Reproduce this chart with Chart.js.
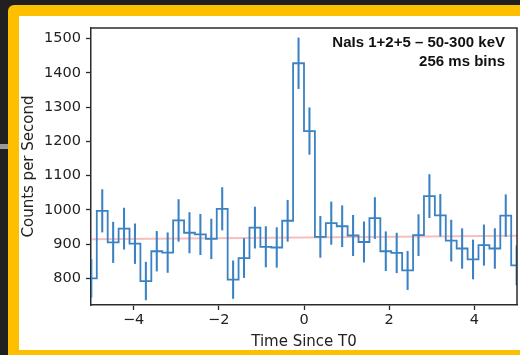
<!DOCTYPE html>
<html>
<head>
<meta charset="utf-8">
<script src="https://cdn.jsdelivr.net/npm/chart.js@4.4.1/dist/chart.umd.min.js"></script>
<style>
    html, body {
        margin: 0;
        padding: 0;
        width: 520px;
        height: 355px;
        overflow: hidden;
        background: #202020;
    }
    .frame {
        position: absolute;
        left: 8px;
        top: 5px;
        width: 530px;
        height: 370px;
        border-radius: 6px;
        background: #fdbf00;
    }
    .panel {
        position: absolute;
        left: 19px;
        top: 16px;
        width: 501px;
        height: 334px;
        background: #ffffff;
    }
    .tab {
        position: absolute;
        left: 0;
        top: 144px;
        width: 8px;
        height: 5px;
        background: #9a9a9a;
    }
    #lc {
        position: absolute;
        left: 0;
        top: 0;
    }
</style>
</head>
<body>
<div class="frame"></div>
<div class="panel"></div>
<div class="tab"></div>
<canvas id="lc" width="520" height="355"></canvas>
<script>
/* ==========================================================================
   光變曲線資料 (256 ms 分箱, NaI 1+2+5, 50-300 keV)
   ========================================================================== */

const binWidth = 0.256;       // 秒
const firstBin = -20;         // 第一個分箱的索引 (左緣 = firstBin * binWidth)

// 每個分箱的計數率 (counts / s)
const rates = [
    800, 997, 905, 945, 901, 792, 879, 875, 969, 933,
    928, 915, 1003, 796, 859, 948, 892, 890, 968, 1428,
    1230, 921, 961, 952, 925, 906, 976, 879, 874, 823,
    926, 1040, 984, 910, 887, 855, 897, 887, 983, 838
];

// 每個分箱的 1σ 誤差
const errors = [
    55, 62, 59, 60, 58, 55, 58, 58, 61, 59,
    59, 58, 62, 55, 57, 60, 59, 58, 60, 74,
    68, 60, 62, 60, 59, 59, 60, 57, 58, 56,
    60, 63, 61, 60, 58, 57, 59, 58, 61, 57
];

// 背景擬合線 (兩端點)
const bgTimes = [-5, 5];
const bgRates = [914, 924];

const xTicks = [-4, -2, 0, 2, 4];
const yTicks = [800, 900, 1000, 1100, 1200, 1300, 1400, 1500];

const labelLines = ['NaIs 1+2+5 \u2013 50-300 keV', '256 ms bins'];

/* ==========================================================================
   建立資料集
   ========================================================================== */

// 階梯線: 每個分箱左緣一點, 最後補上右緣
const stepPoints = rates.map((r, i) => ({ x: (firstBin + i) * binWidth, y: r }));
stepPoints.push({ x: (firstBin + rates.length) * binWidth, y: rates[rates.length - 1] });

// 誤差棒: 以浮動長條畫在分箱中心
const errPoints = rates.map((r, i) => ({
    x: (firstBin + i + 0.5) * binWidth,
    y: [r - errors[i], r + errors[i]]
}));

const bgPoints = bgTimes.map((t, i) => ({ x: t, y: bgRates[i] }));

const blue = '#3a82c4';
const axisColor = '#2b2b2b';
const textColor = '#222222';

// 上方與右方的邊框
const boxPlugin = {
    id: 'box',
    afterDatasetsDraw(chart) {
        const { ctx, chartArea: a } = chart;
        ctx.save();
        ctx.strokeStyle = axisColor;
        ctx.lineWidth = 1.5;
        ctx.beginPath();
        ctx.moveTo(a.left, a.top);
        ctx.lineTo(a.right, a.top);
        ctx.lineTo(a.right, a.bottom);
        ctx.stroke();
        ctx.restore();
    }
};

// 右上角說明文字
const notePlugin = {
    id: 'note',
    afterDraw(chart) {
        const { ctx, chartArea: a } = chart;
        ctx.save();
        ctx.fillStyle = '#111111';
        ctx.font = 'bold 15px "Liberation Sans", Arial, sans-serif';
        ctx.textAlign = 'right';
        ctx.textBaseline = 'middle';
        labelLines.forEach((line, i) => {
            ctx.fillText(line, a.right - 12, a.top + 15 + i * 19);
        });
        ctx.restore();
    }
};

const tickFont = { family: '"DejaVu Sans", sans-serif', size: 14.5 };
const titleFont = { family: '"DejaVu Sans", sans-serif', size: 15 };

new Chart(document.getElementById('lc'), {
    type: 'line',
    data: {
        datasets: [
            {
                type: 'line',
                data: stepPoints,
                stepped: 'before',
                borderColor: blue,
                borderWidth: 1.8,
                pointRadius: 0,
                fill: false,
                order: 1
            },
            {
                type: 'bar',
                data: errPoints,
                backgroundColor: blue,
                borderWidth: 0,
                barThickness: 1.4,
                grouped: false,
                order: 2
            },
            {
                type: 'line',
                data: bgPoints,
                borderColor: 'rgba(238, 110, 110, 0.45)',
                borderWidth: 2,
                pointRadius: 0,
                fill: false,
                order: 3
            }
        ]
    },
    options: {
        responsive: false,
        animation: false,
        devicePixelRatio: 1,
        layout: { padding: { left: 0, top: 28, right: 3, bottom: 0 } },
        plugins: {
            legend: { display: false },
            tooltip: { enabled: false }
        },
        scales: {
            x: {
                type: 'linear',
                min: -5,
                max: 5,
                offset: false,
                afterBuildTicks: scale => { scale.ticks = xTicks.map(v => ({ value: v })); },
                afterFit: scale => { scale.height = 50; },
                ticks: {
                    color: textColor,
                    font: tickFont,
                    padding: 2,
                    autoSkip: false,
                    maxRotation: 0,
                    callback: v => String(v).replace('-', '\u2212')
                },
                grid: {
                    offset: false,
                    drawOnChartArea: false,
                    drawTicks: true,
                    tickLength: 5,
                    tickColor: axisColor,
                    tickWidth: 1.3
                },
                border: { display: true, color: axisColor, width: 1.5 },
                title: {
                    display: true,
                    text: 'Time Since T0',
                    color: textColor,
                    font: titleFont,
                    padding: { top: 0, bottom: 4 }
                }
            },
            y: {
                type: 'linear',
                min: 722,
                max: 1531,
                afterBuildTicks: scale => { scale.ticks = yTicks.map(v => ({ value: v })); },
                afterFit: scale => { scale.width = 91; },
                ticks: {
                    color: textColor,
                    font: tickFont,
                    padding: 5,
                    autoSkip: false,
                    callback: v => String(v)
                },
                grid: {
                    offset: false,
                    drawOnChartArea: false,
                    drawTicks: true,
                    tickLength: 5,
                    tickColor: axisColor,
                    tickWidth: 1.3
                },
                border: { display: true, color: axisColor, width: 1.5 },
                title: {
                    display: true,
                    text: 'Counts per Second',
                    color: textColor,
                    font: titleFont,
                    padding: { top: 20, bottom: 0 }
                }
            }
        }
    },
    plugins: [boxPlugin, notePlugin]
});
</script>
</body>
</html>
